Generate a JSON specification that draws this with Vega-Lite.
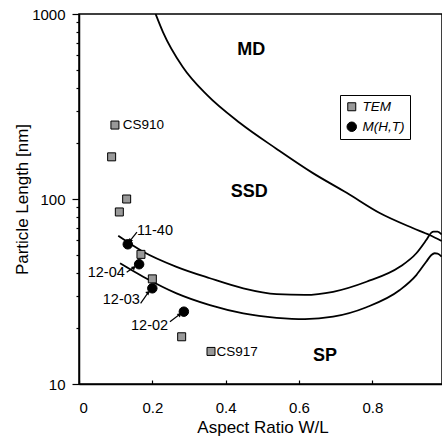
{
  "$schema": "https://vega.github.io/schema/vega-lite/v6.json",
  "width": 363,
  "height": 370,
  "autosize": {"type": "none"},
  "padding": {"left": 79, "top": 14, "right": 0, "bottom": 58},
  "background": "white",
  "config": {
    "font": "Liberation Sans",
    "view": {"stroke": "black", "strokeWidth": 1.5},
    "axis": {
      "domainColor": "black",
      "domainWidth": 1.5,
      "tickColor": "black",
      "tickWidth": 1.2,
      "labelColor": "black",
      "titleColor": "black",
      "labelFont": "Liberation Sans",
      "titleFont": "Liberation Sans",
      "labelFontSize": 15,
      "titleFontSize": 17,
      "titleFontWeight": "normal",
      "grid": false
    }
  },
  "datasets": {
    "curves": [
      {"curve": "MD", "i": 1, "x": 0.209, "y": 1000},
      {"curve": "MD", "i": 2, "x": 0.229, "y": 799},
      {"curve": "MD", "i": 3, "x": 0.283, "y": 517},
      {"curve": "MD", "i": 4, "x": 0.349, "y": 365},
      {"curve": "MD", "i": 5, "x": 0.439, "y": 257.5},
      {"curve": "MD", "i": 6, "x": 0.540, "y": 186},
      {"curve": "MD", "i": 7, "x": 0.638, "y": 138},
      {"curve": "MD", "i": 8, "x": 0.730, "y": 108},
      {"curve": "MD", "i": 9, "x": 0.820, "y": 84},
      {"curve": "MD", "i": 10, "x": 0.910, "y": 69.7},
      {"curve": "MD", "i": 11, "x": 0.956, "y": 63.9},
      {"curve": "MD", "i": 12, "x": 0.989, "y": 59.3},
      {"curve": "SSD", "i": 1, "x": 0.107, "y": 63.3},
      {"curve": "SSD", "i": 2, "x": 0.175, "y": 51.9},
      {"curve": "SSD", "i": 3, "x": 0.266, "y": 43.0},
      {"curve": "SSD", "i": 4, "x": 0.357, "y": 37.3},
      {"curve": "SSD", "i": 5, "x": 0.448, "y": 32.9},
      {"curve": "SSD", "i": 6, "x": 0.539, "y": 30.6},
      {"curve": "SSD", "i": 7, "x": 0.616, "y": 30.3},
      {"curve": "SSD", "i": 8, "x": 0.693, "y": 31.5},
      {"curve": "SSD", "i": 9, "x": 0.784, "y": 35.7},
      {"curve": "SSD", "i": 10, "x": 0.875, "y": 43.0},
      {"curve": "SSD", "i": 11, "x": 0.920, "y": 50.9},
      {"curve": "SSD", "i": 12, "x": 0.947, "y": 60.0},
      {"curve": "SSD", "i": 13, "x": 0.961, "y": 65.8},
      {"curve": "SSD", "i": 14, "x": 0.967, "y": 66.7},
      {"curve": "SSD", "i": 15, "x": 0.978, "y": 66.7},
      {"curve": "SSD", "i": 16, "x": 0.989, "y": 64.3},
      {"curve": "SP", "i": 1, "x": 0.112, "y": 44.9},
      {"curve": "SP", "i": 2, "x": 0.175, "y": 38.0},
      {"curve": "SP", "i": 3, "x": 0.266, "y": 30.9},
      {"curve": "SP", "i": 4, "x": 0.357, "y": 26.7},
      {"curve": "SP", "i": 5, "x": 0.448, "y": 24.1},
      {"curve": "SP", "i": 6, "x": 0.539, "y": 22.8},
      {"curve": "SP", "i": 7, "x": 0.616, "y": 22.4},
      {"curve": "SP", "i": 8, "x": 0.693, "y": 23.1},
      {"curve": "SP", "i": 9, "x": 0.784, "y": 26.0},
      {"curve": "SP", "i": 10, "x": 0.875, "y": 32.2},
      {"curve": "SP", "i": 11, "x": 0.920, "y": 38.8},
      {"curve": "SP", "i": 12, "x": 0.947, "y": 45.8},
      {"curve": "SP", "i": 13, "x": 0.961, "y": 49.8},
      {"curve": "SP", "i": 14, "x": 0.970, "y": 50.9},
      {"curve": "SP", "i": 15, "x": 0.978, "y": 50.7},
      {"curve": "SP", "i": 16, "x": 0.989, "y": 48.8}
    ],
    "points": [
      {"series": "TEM", "x": 0.098, "y": 251},
      {"series": "TEM", "x": 0.089, "y": 169},
      {"series": "TEM", "x": 0.130, "y": 100},
      {"series": "TEM", "x": 0.110, "y": 85.1},
      {"series": "TEM", "x": 0.169, "y": 50.2},
      {"series": "TEM", "x": 0.200, "y": 37.0},
      {"series": "TEM", "x": 0.280, "y": 18.0},
      {"series": "TEM", "x": 0.360, "y": 15.0},
      {"series": "M(H,T)", "x": 0.133, "y": 56.9},
      {"series": "M(H,T)", "x": 0.164, "y": 44.4},
      {"series": "M(H,T)", "x": 0.200, "y": 32.9},
      {"series": "M(H,T)", "x": 0.286, "y": 24.6}
    ],
    "arrows": [
      {"label": "11-40", "x": 0.139, "y": 59.3, "x0": 0.158, "y0": 66.3},
      {"label": "12-04", "x": 0.150, "y": 42.7, "x0": 0.130, "y0": 40.2},
      {"label": "12-03", "x": 0.189, "y": 31.3, "x0": 0.168, "y0": 27.3},
      {"label": "12-02", "x": 0.275, "y": 23.8, "x0": 0.248, "y0": 21.7}
    ],
    "labels": [
      {"label": "CS910", "x": 0.119, "y": 251},
      {"label": "CS917", "x": 0.375, "y": 14.9},
      {"label": "11-40", "x": 0.158, "y": 67.4},
      {"label": "12-04", "x": 0.125, "y": 39.6},
      {"label": "12-03", "x": 0.166, "y": 28.4},
      {"label": "12-02", "x": 0.243, "y": 20.7}
    ],
    "regions": [
      {"label": "MD", "x": 0.4695, "y": 638},
      {"label": "SSD", "x": 0.464, "y": 109.5},
      {"label": "SP", "x": 0.671, "y": 14.2}
    ]
  },
  "encoding": {
    "x": {
      "field": "x",
      "type": "quantitative",
      "scale": {"domain": [0, 0.99], "nice": false, "zero": false},
      "axis": {
        "title": "Aspect Ratio W/L",
        "values": [0, 0.2, 0.4, 0.6, 0.8],
        "labelExpr": "datum.value == 0 ? '0' : format(datum.value, '.1f')",
        "tickSize": -4,
        "labelPadding": 20,
        "titleX": 183.5,
        "titleY": 43,
        "titleBaseline": "middle",
        "titleAlign": "center"
      }
    },
    "y": {
      "field": "y",
      "type": "quantitative",
      "scale": {"type": "log", "domain": [10, 1000], "nice": false},
      "axis": {
        "title": "Particle Length [nm]",
        "values": [10, 20, 30, 40, 50, 60, 70, 80, 90, 100, 200, 300, 400, 500, 600, 700, 800, 900, 1000],
        "labelExpr": "(datum.value == 10 || datum.value == 100 || datum.value == 1000) ? format(datum.value, 'd') : ''",
        "tickSize": {"condition": {"test": "datum.value == 10 || datum.value == 100 || datum.value == 1000", "value": 7}, "value": 3},
        "labelPadding": 7,
        "titleAngle": 270,
        "titleX": -57,
        "titleY": 185,
        "titleBaseline": "middle",
        "titleAlign": "center"
      }
    }
  },
  "layer": [
    {
      "data": {"name": "curves"},
      "mark": {"type": "line", "color": "black", "strokeWidth": 1.8, "clip": true, "interpolate": "monotone"},
      "encoding": {
        "detail": {"field": "curve", "type": "nominal"},
        "order": {"field": "i", "type": "quantitative"}
      }
    },
    {
      "data": {"name": "arrows"},
      "mark": {"type": "rule", "color": "black", "strokeWidth": 1.2},
      "encoding": {
        "x2": {"field": "x0"},
        "y2": {"field": "y0"}
      }
    },
    {
      "data": {"name": "arrows"},
      "transform": [{"filter": "datum.label != '11-40'"}],
      "mark": {"type": "point", "shape": "triangle-up", "filled": true, "color": "black", "size": 22, "angle": 48, "opacity": 1},
      "encoding": {}
    },
    {
      "data": {"name": "arrows"},
      "transform": [{"filter": "datum.label == '11-40'"}],
      "mark": {"type": "point", "shape": "triangle-up", "filled": true, "color": "black", "size": 22, "angle": 218, "opacity": 1},
      "encoding": {}
    },
    {
      "data": {"name": "points"},
      "mark": {"type": "point", "filled": true, "stroke": "black", "strokeWidth": 1, "opacity": 1},
      "encoding": {
        "shape": {
          "field": "series",
          "type": "nominal",
          "scale": {"domain": ["TEM", "M(H,T)"], "range": ["square", "circle"]},
          "legend": {
            "title": null,
            "orient": "none",
            "legendX": 261,
            "legendY": 81,
            "strokeColor": "black",
            "fillColor": "white",
            "padding": 5,
            "labelFont": "Liberation Sans",
            "labelFontStyle": "italic",
            "labelFontSize": 13.5,
            "labelColor": "black",
            "symbolStrokeColor": "black",
            "symbolStrokeWidth": 1,
            "rowPadding": 5,
            "labelOffset": 4
          }
        },
        "fill": {
          "field": "series",
          "type": "nominal",
          "scale": {"domain": ["TEM", "M(H,T)"], "range": ["#999999", "#000000"]}
        },
        "size": {
          "field": "series",
          "type": "nominal",
          "scale": {"domain": ["TEM", "M(H,T)"], "range": [64, 90]}
        }
      }
    },
    {
      "data": {"name": "labels"},
      "transform": [{"filter": "indexof(['CS910', 'CS917'], datum.label) >= 0"}],
      "mark": {"type": "text", "align": "left", "baseline": "middle", "fontSize": 13.5, "color": "black"},
      "encoding": {"text": {"field": "label"}}
    },
    {
      "data": {"name": "labels"},
      "transform": [{"filter": "datum.label == '11-40'"}],
      "mark": {"type": "text", "align": "left", "baseline": "middle", "fontSize": 14.5, "color": "black"},
      "encoding": {"text": {"field": "label"}}
    },
    {
      "data": {"name": "labels"},
      "transform": [{"filter": "indexof(['12-04', '12-03', '12-02'], datum.label) >= 0"}],
      "mark": {"type": "text", "align": "right", "baseline": "middle", "fontSize": 14.5, "color": "black"},
      "encoding": {"text": {"field": "label"}}
    },
    {
      "data": {"name": "regions"},
      "mark": {"type": "text", "align": "center", "baseline": "middle", "fontSize": 18, "fontWeight": "bold", "color": "black"},
      "encoding": {"text": {"field": "label"}}
    }
  ]
}
